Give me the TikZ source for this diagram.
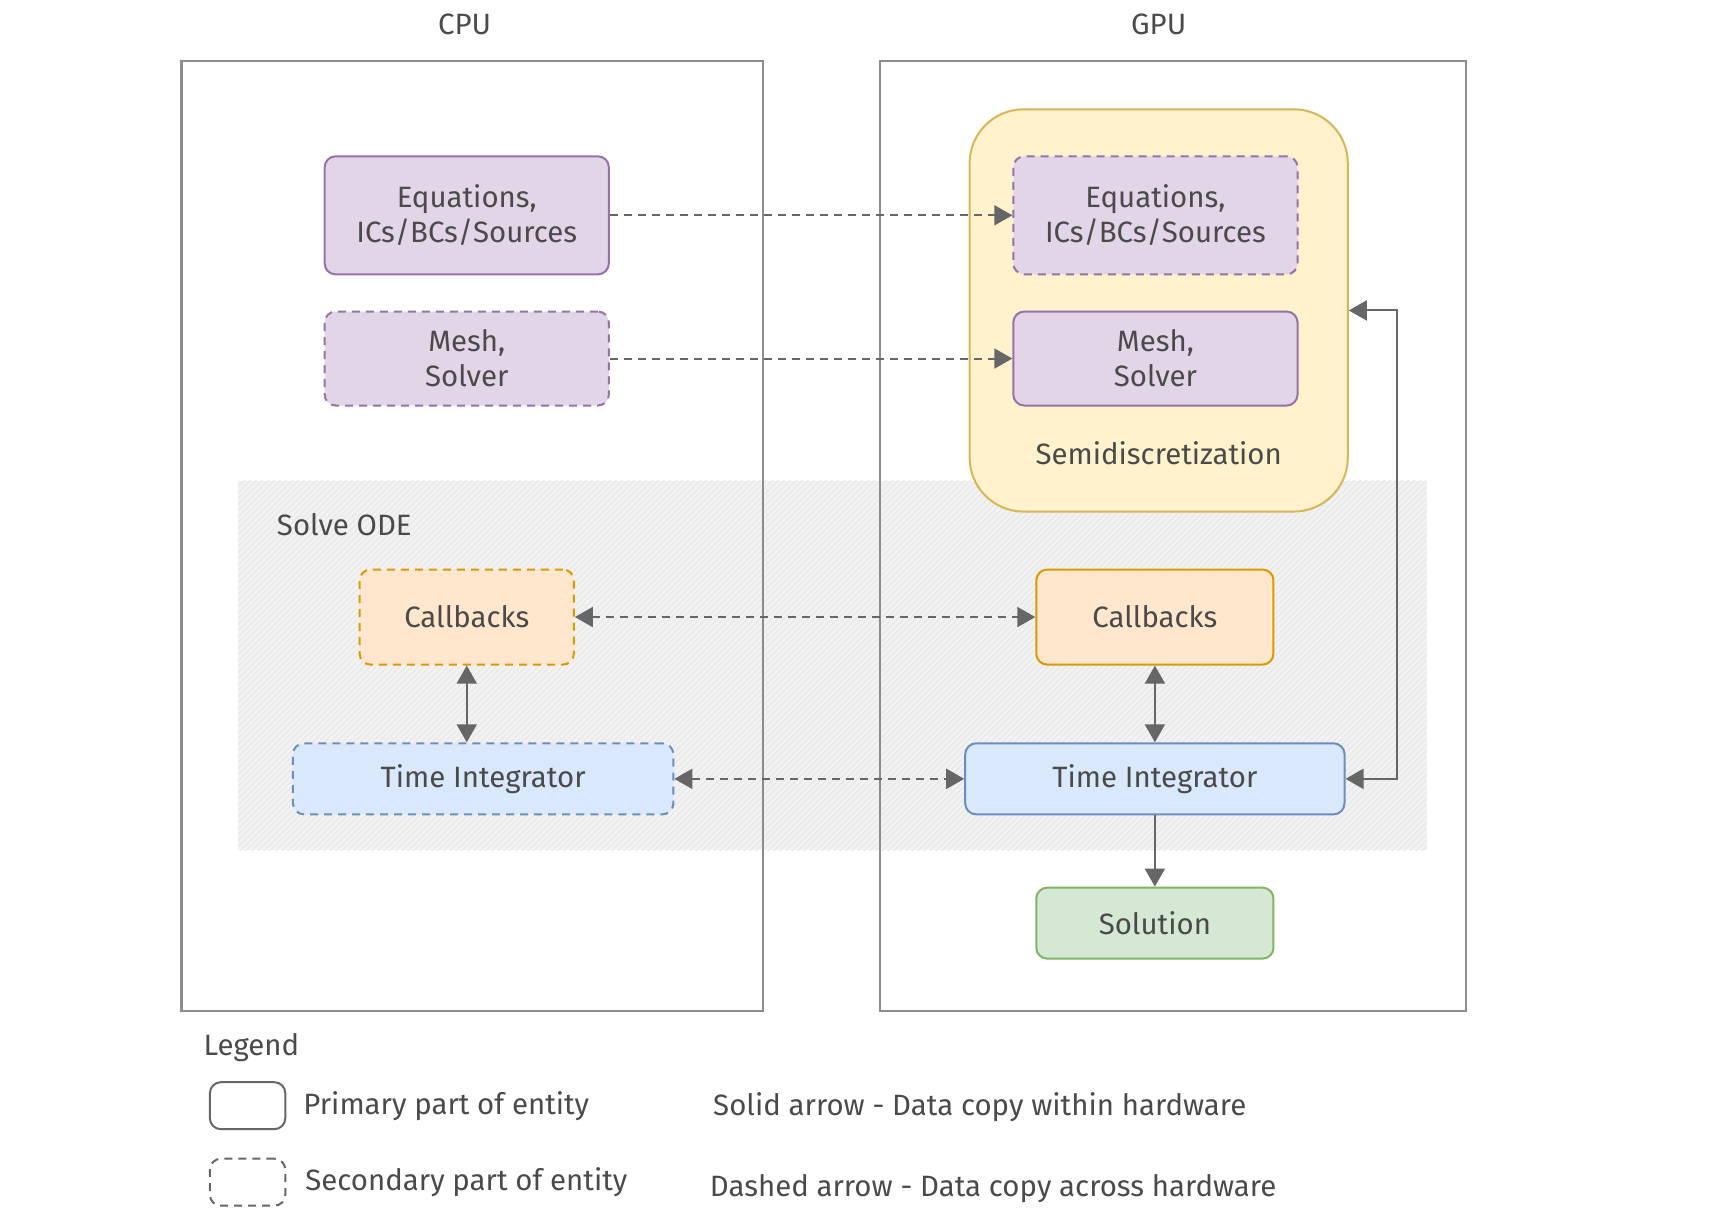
\documentclass[tikz,border=0pt]{standalone}
\usepackage{fontspec}
\setmainfont{Fira Sans}
\usetikzlibrary{arrows.meta, positioning, patterns}

\definecolor{txtgray}{HTML}{4A4A4A}
\definecolor{hwgray}{HTML}{8C8C8C}
\definecolor{arrgray}{HTML}{666666}
\definecolor{purfill}{HTML}{E1D5E7}
\definecolor{purdraw}{HTML}{9673A6}
\definecolor{yelfill}{HTML}{FFF2CC}
\definecolor{yeldraw}{HTML}{D6B656}
\definecolor{orgfill}{HTML}{FFE6CC}
\definecolor{orgdraw}{HTML}{D79B00}
\definecolor{blufill}{HTML}{DAE8FC}
\definecolor{bludraw}{HTML}{6C8EBF}
\definecolor{grnfill}{HTML}{D5E8D4}
\definecolor{grndraw}{HTML}{82B366}

\newdimen\pxu \pxu=0.5465pt

\begin{document}
\begin{tikzpicture}[
    x=0.5465pt, y=-0.5465pt,
    every node/.style={font=\fontsize{14.7}{17.5}\selectfont, text=txtgray, align=center},
    hw/.style={rectangle, draw=hwgray, line width=1.1pt},
    box/.style={rectangle, rounded corners=5.5pt, line width=1pt},
    sec/.style={dash pattern=on 4pt off 3pt},
    pur/.style={box, fill=purfill, draw=purdraw, minimum width=260\pxu},
    org/.style={box, fill=orgfill, draw=orgdraw, minimum height=87\pxu},
    blu/.style={box, fill=blufill, draw=bludraw, minimum width=347\pxu, minimum height=65\pxu},
    grn/.style={box, fill=grnfill, draw=grndraw, minimum width=217\pxu, minimum height=65\pxu},
    legbox/.style={box, draw=arrgray, minimum width=69\pxu, minimum height=43\pxu},
    link/.style={draw=arrgray, line width=1pt, -{Triangle[length=9pt, width=10pt]}},
    both/.style={link, {Triangle[length=9pt, width=10pt]}-{Triangle[length=9pt, width=10pt]}},
    cross/.style={dash pattern=on 4pt off 3pt}
]
    \useasboundingbox (0,0) rectangle (1568,1124);

    % Solve ODE background
    \node[preaction={fill=black!5}, pattern=north east lines, pattern color=black!10,
          minimum width=1087\pxu, minimum height=338\pxu] (ode) at (761.5,609) {};
    \node (odelbl) at (315,480) {Solve ODE};

    % Hardware
    \node[hw, minimum width=532\pxu, minimum height=869\pxu] (cpu) at (432,490.5) {};
    \node[hw, minimum width=536\pxu, minimum height=869\pxu] (gpu) at (1073,490.5) {};
    \node (cpulbl) at (425,22) {CPU};
    \node (gpulbl) at (1060,22) {GPU};

    % Semidiscretization
    \node[box, rounded corners=27pt, fill=yelfill, draw=yeldraw,
          minimum width=346\pxu, minimum height=368\pxu] (semi) at (1060,284) {};
    \node (semilbl) at (1060,415) {Semidiscretization};

    % CPU side
    \node[pur, minimum height=108\pxu] (eqc) at (427,197) {Equations,\\ICs/BCs/Sources};
    \node[pur, sec, minimum height=86\pxu] (meshc) at (427,328) {Mesh,\\Solver};
    \node[org, sec, minimum width=196\pxu] (cbc) at (427,564.5) {Callbacks};
    \node[blu, sec, minimum width=348\pxu] (tic) at (442,712.5) {Time Integrator};

    % GPU side
    \node[pur, sec, minimum height=108\pxu] (eqg) at (1057,197) {Equations,\\ICs/BCs/Sources};
    \node[pur, minimum height=86\pxu] (meshg) at (1057,328) {Mesh,\\Solver};
    \node[org, minimum width=217\pxu] (cbg) at (1056.5,564.5) {Callbacks};
    \node[blu] (tig) at (1056.5,712.5) {Time Integrator};
    \node[grn] (sol) at (1056.5,844.5) {Solution};

    % Arrows across hardware
    \draw[link, cross] (eqc) -- (eqg);
    \draw[link, cross] (meshc) -- (meshg);
    \draw[both, cross] (cbc) -- (cbg);
    \draw[both, cross] (tic) -- (tig);

    % Arrows within hardware
    \draw[both] (cbc.south) -- (cbc.south |- tic.north);
    \draw[both] (cbg) -- (tig);
    \draw[link] (tig) -- (sol);
    \draw[both] (tig.east) -- ++(47,0) |- (semi.east);

    % Legend
    \node (leglbl) at (230,958) {Legend};
    \node[legbox] (lgp) at (226.5,1011.5) {};
    \node[legbox, sec] (lgs) at (226.5,1081.5) {};
    \node[right=5pt of lgp] (lgptxt) {Primary part of entity};
    \node[right=6pt of lgs] (lgstxt) {Secondary part of entity};
    \node[anchor=west] (solidtxt) at (646,1013) {Solid arrow - Data copy within hardware};
    \node[anchor=west] (dashtxt) at (643,1087) {Dashed arrow - Data copy across hardware};
\end{tikzpicture}
\end{document}
